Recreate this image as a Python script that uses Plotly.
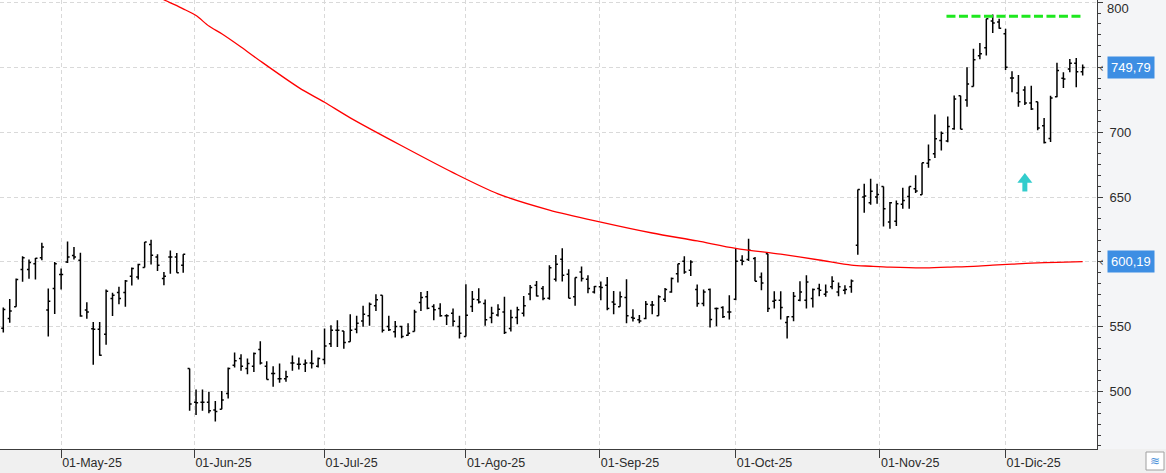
import plotly.graph_objects as go

# ---------------- data (trading-day index based) ----------------
opens = [548.9, 556.5, 565.5, 594.1, 594.1, 598.7, 603.3, 563.0, 579.5, 590.3,
         600.0, 605.0, 601.3, 563.0, 548.6, 548.1, 544.3, 571.9, 576.5, 576.5,
         589.0, 588.5, 595.7, 613.5, 603.8, 587.2, 603.8, 603.8, 597.4, 517.9,
         492.0, 492.0, 492.0, 485.9, 486.5, 498.7, 520.4, 525.6, 517.9, 519.7,
         532.5, 519.7, 514.1, 510.0, 510.0, 522.2, 521.2, 521.2, 522.2, 519.7,
         524.8, 537.0, 547.4, 546.9, 538.5, 548.2, 554.6, 558.5, 566.2, 574.4,
         550.3, 546.2, 550.3, 543.6, 546.4, 568.7, 573.1, 565.6, 564.1, 558.5,
         560.5, 550.3, 542.6, 565.6, 570.8, 568.0, 557.2, 559.2, 561.5, 548.7,
         557.2, 560.5, 575.3, 582.1, 579.5, 572.0, 586.7, 602.0, 590.5, 573.1,
         592.3, 586.7, 576.9, 580.8, 582.1, 569.2, 565.4, 572.6, 557.2, 555.4,
         556.4, 566.9, 558.5, 571.3, 576.9, 591.0, 600.5, 593.6, 578.7, 568.0,
         578.7, 564.1, 564.9, 561.5, 571.3, 601.3, 601.8, 602.6, 588.5, 606.4,
         569.7, 570.5, 553.3, 557.7, 570.5, 570.5, 571.8, 579.5, 575.1, 580.8,
         576.9, 578.2, 580.8, 612.8, 650.0, 645.6, 650.0, 658.2, 630.8, 631.3,
         644.4, 650.5, 656.4, 651.8, 676.0, 683.3, 693.6, 693.1, 702.6, 728.0,
         724.7, 735.1, 758.8, 765.0, 785.6, 784.8, 775.8, 741.8, 730.2, 732.5,
         722.4, 723.5, 704.9, 695.1, 727.3, 741.5, 748.7, 753.1, 746.6]
highs = [565.0, 571.4, 587.2, 604.3, 601.8, 603.0, 614.8, 579.5, 600.0, 594.9,
         615.8, 611.5, 607.0, 569.0, 553.7, 553.7, 578.8, 576.2, 580.8, 586.0,
         595.7, 598.7, 615.3, 617.1, 605.9, 592.3, 608.9, 606.9, 605.9, 517.9,
         501.8, 501.8, 500.0, 492.8, 500.5, 518.7, 530.2, 528.9, 525.6, 530.2,
         538.9, 523.5, 519.7, 521.7, 516.1, 527.9, 526.3, 524.8, 532.0, 526.3,
         548.7, 551.3, 555.1, 546.9, 559.7, 558.5, 566.2, 568.7, 575.1, 574.4,
         558.5, 554.6, 550.8, 552.8, 563.1, 576.9, 577.7, 567.4, 568.2, 559.7,
         564.1, 558.5, 582.8, 577.7, 579.7, 571.0, 565.4, 567.4, 573.1, 563.1,
         565.4, 573.8, 582.3, 585.4, 581.5, 597.4, 605.4, 610.5, 594.4, 588.0,
         596.4, 589.7, 581.5, 584.9, 588.5, 577.7, 577.2, 586.7, 563.6, 559.2,
         570.0, 570.0, 574.4, 580.0, 588.0, 598.7, 604.4, 601.3, 582.6, 578.7,
         579.5, 564.9, 565.9, 574.4, 610.8, 605.1, 617.9, 603.8, 591.8, 606.4,
         577.4, 577.4, 558.2, 576.9, 585.1, 589.7, 579.5, 583.3, 582.6, 589.0,
         584.1, 582.0, 586.4, 655.9, 660.3, 664.1, 660.3, 658.2, 646.2, 647.4,
         657.2, 658.2, 666.7, 676.4, 690.5, 713.6, 700.5, 712.0, 728.2, 728.1,
         750.0, 764.2, 768.6, 787.4, 790.7, 787.4, 779.6, 746.9, 744.1, 735.3,
         735.8, 723.5, 710.8, 728.1, 753.4, 746.1, 756.4, 757.2, 752.1]
lows = [545.6, 553.2, 565.5, 584.7, 587.0, 586.5, 601.3, 542.5, 559.9, 578.8,
        599.2, 601.8, 557.8, 556.3, 520.8, 527.7, 536.3, 558.3, 567.5, 565.5,
        581.9, 586.5, 595.7, 598.0, 593.1, 582.1, 591.0, 591.6, 591.6, 485.4,
        482.1, 485.4, 483.4, 477.0, 486.5, 494.9, 518.7, 516.1, 513.5, 515.3,
        521.0, 509.5, 503.8, 506.9, 507.7, 516.1, 517.1, 515.3, 517.9, 518.7,
        521.2, 534.5, 534.5, 533.2, 538.5, 545.1, 550.0, 550.8, 562.3, 545.6,
        546.9, 541.8, 541.3, 543.1, 546.4, 562.3, 563.6, 555.1, 557.7, 551.5,
        550.3, 541.0, 542.6, 561.5, 568.0, 550.8, 552.8, 557.9, 544.4, 546.4,
        552.0, 557.9, 570.5, 573.3, 570.5, 570.8, 584.9, 584.9, 572.0, 566.2,
        584.9, 575.9, 575.6, 570.5, 562.8, 559.7, 565.4, 552.8, 554.1, 552.8,
        555.9, 559.7, 558.5, 569.2, 576.2, 584.1, 591.0, 589.2, 565.4, 565.9,
        549.5, 550.5, 556.9, 555.6, 570.5, 597.4, 600.8, 585.1, 578.2, 561.5,
        564.1, 555.6, 541.0, 554.4, 569.7, 564.1, 564.9, 573.6, 573.1, 579.0,
        573.6, 575.1, 576.2, 605.6, 637.9, 644.1, 644.9, 627.4, 625.6, 627.7,
        641.0, 641.0, 653.1, 651.8, 672.5, 680.0, 685.9, 692.3, 701.8, 702.3,
        719.6, 735.1, 756.2, 759.0, 776.3, 779.6, 747.9, 730.7, 719.6, 720.9,
        717.0, 701.5, 691.2, 692.5, 726.8, 734.0, 746.1, 734.5, 743.6]
closes = [563.4, 562.2, 586.5, 603.3, 599.5, 602.8, 611.5, 569.8, 598.7, 590.3,
          603.8, 603.8, 558.3, 561.4, 548.1, 528.2, 577.5, 574.4, 571.9, 585.4,
          594.9, 598.0, 615.3, 605.1, 597.4, 589.0, 603.8, 591.6, 605.9, 490.5,
          491.6, 492.0, 485.4, 484.7, 493.6, 517.9, 523.8, 519.7, 521.7, 529.4,
          522.2, 509.5, 514.1, 510.0, 511.5, 522.2, 521.2, 522.2, 521.7, 525.6,
          535.3, 547.4, 547.4, 538.0, 547.4, 552.8, 559.7, 567.4, 570.8, 547.4,
          547.7, 550.3, 542.6, 545.1, 561.5, 572.6, 564.4, 563.1, 558.5, 558.5,
          554.4, 545.1, 559.0, 571.3, 569.2, 555.4, 560.5, 563.6, 545.6, 557.2,
          563.1, 566.2, 580.3, 573.8, 571.8, 595.6, 598.2, 589.7, 572.0, 588.0,
          587.2, 579.5, 581.0, 580.3, 564.1, 567.4, 573.1, 558.5, 556.7, 554.6,
          567.4, 566.9, 573.1, 578.7, 587.2, 598.7, 592.3, 600.0, 568.0, 576.9,
          555.6, 564.1, 557.7, 561.5, 600.5, 600.5, 609.0, 585.1, 583.8, 564.1,
          570.5, 564.9, 557.7, 573.6, 576.9, 584.6, 578.7, 578.2, 576.9, 585.1,
          580.8, 578.7, 585.4, 655.9, 650.8, 654.4, 652.0, 641.0, 645.6, 644.9,
          647.4, 658.2, 654.6, 676.4, 678.7, 694.9, 699.2, 704.4, 725.6, 702.3,
          737.1, 755.7, 760.3, 787.4, 784.0, 780.0, 750.0, 741.8, 723.5, 722.4,
          717.8, 703.1, 692.0, 726.3, 747.4, 741.0, 753.1, 746.6, 749.79]
bar_index = list(range(len(closes)))

# moving average (read at sparse points)
ma_index = [24, 25, 28, 30, 32, 34, 37, 40, 46, 50, 54, 62, 70, 77, 85, 93, 101,
            108, 114, 121, 127, 132, 135, 138, 143, 147, 151, 154, 157, 160, 164, 168]
ma_values = [804.7, 802.0, 795.0, 789.8, 781.7, 775.8, 765.6, 754.8, 734.3, 723.0,
             711.0, 689.5, 668.8, 652.5, 640.0, 630.7, 622.3, 616.2, 610.5, 606.0,
             601.5, 597.5, 596.7, 596.0, 595.4, 596.0, 596.6, 597.5, 598.3, 599.1,
             599.7, 600.19]

# resistance line
resistance_level = 789.2
resistance_from = 146.8
resistance_to = 167.8

# buy signal arrow
signal_index = [159]
signal_head = [663.5]
signal_stem = [658.6]

# month ticks
month_pos = [9, 29.74, 50, 72, 92.85, 114, 136.45, 156]
month_labels = ["01-May-25", "01-Jun-25", "01-Jul-25", "01-Ago-25",
                "01-Sep-25", "01-Oct-25", "01-Nov-25", "01-Dic-25"]

# price axis ticks (600 and 750 are covered by the value boxes, 800 drawn separately)
price_ticks = [500, 550, 600, 650, 700, 750, 800]
price_labels = ["500", "550", "", "650", "700", "", ""]
top_label = "800"

last_close = 749.79
last_ma = 600.19

FONT = "Liberation Sans Narrow, Liberation Sans, Arial, sans-serif"
AXIS = "#3c3c3c"
GRID = "#d9d9d9"
TXT = "#2b2b2b"

fig = go.Figure()

fig.add_trace(go.Scatter(x=ma_index, y=ma_values, mode="lines",
                         line=dict(color="#ff0000", width=1.3, shape="spline",
                                   smoothing=0.8),
                         hoverinfo="skip", showlegend=False))

fig.add_trace(go.Ohlc(x=bar_index, open=opens, high=highs, low=lows, close=closes,
                      increasing=dict(line=dict(color="#000000", width=1.5)),
                      decreasing=dict(line=dict(color="#000000", width=1.5)),
                      tickwidth=0.32, hoverinfo="skip", showlegend=False))

fig.add_trace(go.Scatter(x=[resistance_from, resistance_to],
                         y=[resistance_level, resistance_level], mode="lines",
                         line=dict(color="#1ee81e", width=3, dash="9px,3.5px"),
                         hoverinfo="skip", showlegend=False))

fig.add_trace(go.Scatter(x=signal_index, y=signal_stem, mode="markers",
                         marker=dict(symbol="line-ns", size=8,
                                     line=dict(color="#33cccc", width=5)),
                         hoverinfo="skip", showlegend=False))
fig.add_trace(go.Scatter(x=signal_index, y=signal_head, mode="markers",
                         marker=dict(symbol="triangle-up", size=13, color="#33cccc",
                                     line=dict(width=0)),
                         hoverinfo="skip", showlegend=False))

W, H = 1166, 473
ML, MR, MT, MB = 0, 69, 0, 24
plot_w = W - ML - MR
plot_h = H - MT - MB

fig.update_layout(
    width=W, height=H, autosize=False,
    margin=dict(l=ML, r=MR, t=MT, b=MB, pad=0, autoexpand=False),
    paper_bgcolor="#f0f0f0", plot_bgcolor="#ffffff",
    font=dict(family=FONT, size=12.5, color=TXT),
    showlegend=False,
    xaxis=dict(range=[-0.514, 170.23], tickmode="array", tickvals=month_pos,
               ticktext=month_labels, ticks="outside", ticklen=8, tickcolor=AXIS,
               ticklabelposition="outside right", automargin=False,
               ticklabelstandoff=2,
               showline=True, linecolor=AXIS, linewidth=1,
               showgrid=True, gridcolor=GRID, griddash="4px,3px", gridwidth=1,
               zeroline=False, rangeslider=dict(visible=False),
               tickfont=dict(family=FONT, size=12.5, color=TXT)),
    yaxis=dict(side="right", range=[455.9, 801.8], tickmode="array",
               tickvals=price_ticks, ticktext=price_labels, automargin=False,
               ticks="outside", ticklen=5, tickcolor=AXIS, ticklabelstandoff=4,
               showline=True, linecolor=AXIS, linewidth=1,
               showgrid=True, gridcolor=GRID, griddash="4px,3px", gridwidth=1,
               zeroline=False,
               tickfont=dict(family=FONT, size=13, color=TXT),
               minor=dict(tick0=500, dtick=50 / 6, ticks="outside", ticklen=3,
                          tickcolor=AXIS, showgrid=False)),
)

# top price label, kept fully inside the picture
fig.add_annotation(xref="paper", yref="paper", x=1, y=1, xanchor="left",
                   yanchor="top", xshift=9, yshift=0, borderpad=0,
                   text=top_label, showarrow=False,
                   font=dict(family=FONT, size=13, color=TXT))

# right-side strip
fig.add_shape(type="rect", xref="paper", yref="paper", x0=1, x1=W / plot_w,
              y0=0, y1=1, fillcolor="#f4f5f7", line=dict(width=0), layer="below")
# small icon box bottom right
fig.add_shape(type="rect", xref="paper", yref="paper",
              x0=(1146 - ML) / plot_w, x1=(1164 - ML) / plot_w,
              y0=-21 / plot_h, y1=-3 / plot_h,
              fillcolor="#ffffff", line=dict(color="#a0a0a0", width=1))
fig.add_annotation(xref="paper", yref="paper", x=(1155 - ML) / plot_w,
                   y=-12 / plot_h, xanchor="center", yanchor="middle",
                   text="≋", showarrow=False,
                   font=dict(size=12, color="#4a90d9", family="DejaVu Sans"))

for val, txt in [(last_close, "749,79"), (last_ma, "600,19")]:
    fig.add_annotation(xref="paper", yref="y", x=1, y=val, xanchor="left",
                       yanchor="middle", xshift=10, text=txt, showarrow=False,
                       bgcolor="#3d8ee3", borderpad=3,
                       font=dict(family=FONT, size=13, color="#ffffff"))
    fig.add_annotation(xref="paper", yref="y", x=1, y=val, xanchor="left",
                       yanchor="middle", xshift=0, text="‹", showarrow=False,
                       font=dict(family="DejaVu Sans", size=12, color="#555555"))

fig.write_html("out.html", include_plotlyjs=True)
